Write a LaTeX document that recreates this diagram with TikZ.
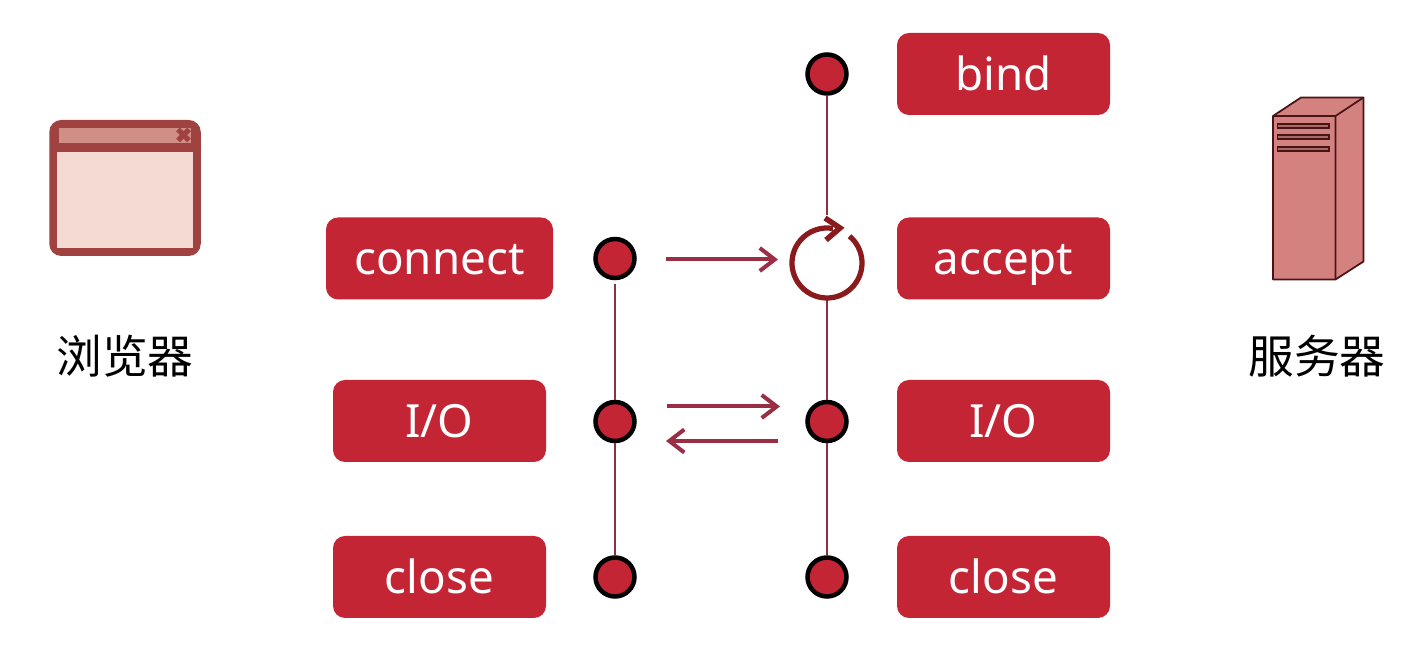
\documentclass[tikz,border=0pt]{standalone}
\usepackage{fontspec}
\setmainfont{Noto Sans}
\newfontfamily\cjk{Noto Sans CJK SC}
\usetikzlibrary{positioning, calc, arrows.meta}
\definecolor{boxred}{HTML}{C42535}
\definecolor{linered}{HTML}{8E2F42}
\definecolor{arrowred}{HTML}{9A2E45}
\definecolor{looped}{HTML}{8A1A1C}
\definecolor{winred}{HTML}{A04340}
\definecolor{winpink}{HTML}{F4DAD3}
\definecolor{winbar}{HTML}{CF8F86}
\definecolor{towerred}{HTML}{D38280}
\definecolor{towerdark}{HTML}{4A1416}
\tikzstyle{call} = [rectangle, rounded corners=0.24cm, minimum height=1.64cm, text height=0.76cm, text depth=0.1cm, text centered, fill=boxred, text=white, font=\fontsize{26}{30}\selectfont]
\tikzstyle{dot} = [circle, minimum size=0.78cm, inner sep=0pt, draw=black, line width=0.09cm, fill=boxred]
\tikzstyle{life} = [linered, line width=0.045cm]
\tikzstyle{arrow} = [arrowred, line width=0.08cm, -{Straight Barb[length=0.3cm, width=0.46cm, line width=0.08cm]}]
\tikzstyle{caption} = [font=\cjk\fontsize{26}{30}\selectfont, text=black]
\begin{document}
\begin{tikzpicture}
\useasboundingbox (0,0) rectangle (28.36,13.02);

% client side
\node (connect) [call, minimum width=4.54cm] at (8.79,7.85) {connect};
\node (cio) [call, minimum width=4.26cm] at (8.79,4.6) {I/O};
\node (cclose) [call, minimum width=4.26cm] at (8.79,1.48) {close};
\node (cdot1) [dot] at (12.3,7.85) {};
\node (cdot2) [dot] at (12.3,4.59) {};
\node (cdot3) [dot] at (12.3,1.48) {};

% server side
\node (bind) [call, minimum width=4.26cm] at (20.07,11.54) {bind};
\node (accept) [call, minimum width=4.26cm] at (20.07,7.85) {accept};
\node (sio) [call, minimum width=4.26cm] at (20.07,4.6) {I/O};
\node (sclose) [call, minimum width=4.26cm] at (20.07,1.48) {close};
\node (sdot0) [dot] at (16.54,11.54) {};
\node (loop) [circle, minimum size=1.4cm, inner sep=0pt] at (16.54,7.76) {};
\node (sdot2) [dot] at (16.54,4.59) {};
\node (sdot3) [dot] at (16.54,1.48) {};

% life lines
\draw [life, shorten <=0.08cm] (cdot1) -- (cdot2);
\draw [life] (cdot2) -- (cdot3);
\draw [life, shorten >=0.26cm] (sdot0) -- (loop.north);
\draw [life] (loop.south) -- (sdot2);
\draw [life] (sdot2) -- (sdot3);

% loop around accept
\draw [looped, line width=0.105cm] (loop.center) ++(50:0.7cm) arc[start angle=50, end angle=-280, radius=0.7cm];
\draw [looped, line width=0.11cm, miter limit=4] (16.5,8.66) -- (16.8,8.46) -- (16.52,8.22);

% messages
\coordinate (syn0) at (13.32,7.83);
\coordinate (syn1) at (15.56,7.83);
\coordinate (out0) at (13.34,4.89);
\coordinate (out1) at (15.6,4.89);
\coordinate (in0) at (15.55,4.2);
\coordinate (in1) at (13.32,4.2);
\draw [arrow] (syn0) -- (syn1);
\draw [arrow] (out0) -- (out1);
\draw [arrow] (in0) -- (in1);

% browser window
\node (window) [rectangle, rounded corners=0.24cm, minimum width=3.03cm, minimum height=2.72cm, fill=winred] at (2.5,9.26) {};
\fill [winbar] (1.18,10.166) rectangle (3.82,10.46);
\fill [winpink] (1.146,8.066) rectangle (3.854,9.986);
\draw [winred, line width=0.1cm] (3.56,10.21) -- (3.78,10.43) (3.78,10.21) -- (3.56,10.43);
\node (browser) [caption] at (2.5,5.9) {浏览器};

% server tower
\filldraw [towerred, draw=towerdark, line width=0.035cm, line join=round] (25.46,10.7) -- (26.02,11.07) -- (27.27,11.07) -- (27.27,7.79) -- (26.71,7.43) -- (25.46,7.43) -- cycle;
\draw [towerdark, line width=0.035cm] (25.46,10.7) -- (26.71,10.7) -- (26.71,7.43) (26.71,10.7) -- (27.27,11.07);
\foreach \ypos in {10.506,10.274,10.034}
  \filldraw [fill=winbar!70!towerdark, draw=towerdark, line width=0.035cm] (25.55,\ypos-0.04) rectangle (26.58,\ypos+0.04);
\node (server) [caption] at (26.34,5.9) {服务器};
\end{tikzpicture}
\end{document}
